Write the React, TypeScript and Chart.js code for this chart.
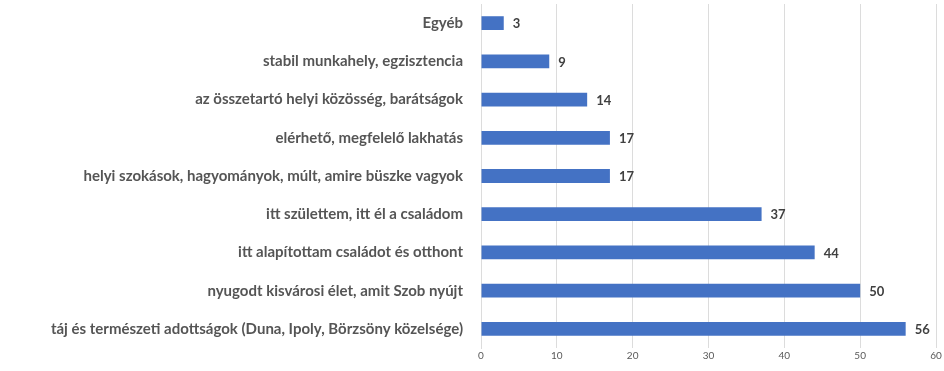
import React, { useEffect, useRef } from "react";
import { Chart, registerables } from "chart.js";

Chart.register(...registerables);

const categories: string[] = [
  "Egyéb",
  "stabil munkahely, egzisztencia",
  "az összetartó helyi közösség, barátságok",
  "elérhető, megfelelő lakhatás",
  "helyi szokások, hagyományok, múlt, amire büszke vagyok",
  "itt születtem, itt él a családom",
  "itt alapítottam családot és otthont",
  "nyugodt kisvárosi élet, amit Szob nyújt",
  "táj és természeti adottságok (Duna, Ipoly, Börzsöny közelsége)",
];

const values: number[] = [3, 9, 14, 17, 17, 37, 44, 50, 56];

const xMin = 0;
const xMax = 60;
const xStep = 10;

const FONT = "Lato, 'Open Sans', sans-serif";

const valueLabelPlugin = {
  id: "valueLabels",
  afterDatasetsDraw(chart: any) {
    const ctx = chart.ctx;
    const meta = chart.getDatasetMeta(0);
    ctx.save();
    ctx.font = `bold 13px ${FONT}`;
    ctx.fillStyle = "#404040";
    ctx.textAlign = "left";
    ctx.textBaseline = "middle";
    meta.data.forEach((bar: any, i: number) => {
      ctx.fillText(String(values[i]), bar.x + 9, bar.y + 1);
    });
    ctx.restore();
  },
};

export default function App() {
  const ref = useRef<HTMLCanvasElement | null>(null);
  useEffect(() => {
    if (!ref.current) return;
    const chart = new Chart(ref.current, {
      type: "bar",
      data: {
        labels: categories,
        datasets: [
          {
            data: values,
            backgroundColor: "#4472C4",
            borderWidth: 0,
            barPercentage: 0.36,
            categoryPercentage: 1,
          },
        ],
      },
      options: {
        indexAxis: "y",
        animation: false,
        responsive: false,
        maintainAspectRatio: false,
        layout: { padding: { top: 4, right: 8, left: 0, bottom: 0 } },
        plugins: {
          legend: { display: false },
          tooltip: { enabled: false },
        },
        scales: {
          x: {
            min: xMin,
            max: xMax,
            ticks: {
              stepSize: xStep,
              color: "#595959",
              font: { family: FONT, size: 10 },
              padding: 2,
            },
            grid: { color: "#dcdcdc", drawTicks: false },
            border: { display: false },
            afterFit: (scale: any) => {
              scale.height = 23;
            },
          },
          y: {
            ticks: {
              color: "#555555",
              font: { family: FONT, size: 15, weight: "bold" },
              padding: 18,
              autoSkip: false,
            },
            grid: { display: false, drawTicks: false },
            border: { display: true, color: "#dcdcdc" },
            afterFit: (scale: any) => {
              scale.width = 481;
              scale.paddingTop = 0;
              scale.paddingBottom = 0;
            },
          },
        },
      },
      plugins: [valueLabelPlugin],
    });
    return () => chart.destroy();
  }, []);
  return (
    <div style={{ position: "fixed", left: 0, top: 0, width: 944, height: 371, background: "#fff" }}>
      <canvas ref={ref} width={944} height={371} style={{ width: 944, height: 371 }} />
    </div>
  );
}
